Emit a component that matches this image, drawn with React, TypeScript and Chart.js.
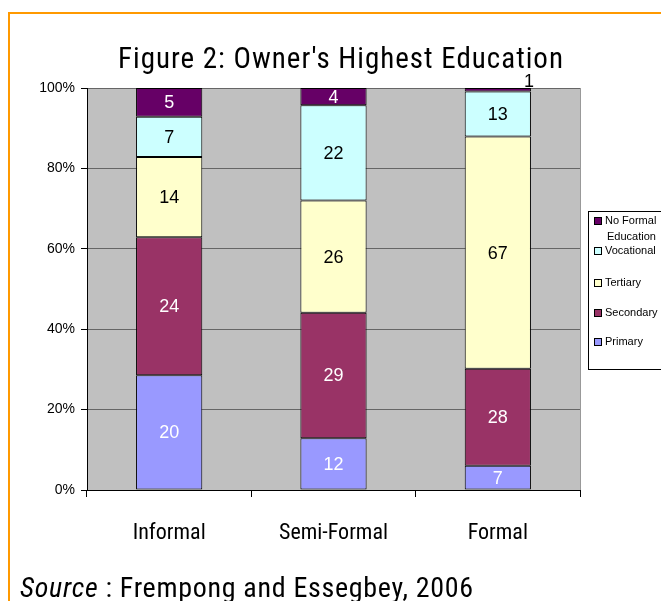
import React, { useEffect, useRef } from "react";
import { Chart, registerables } from "chart.js";

Chart.register(...registerables);

const categories = ["Informal", "Semi-Formal", "Formal"];
const seriesNames = ["Primary", "Secondary", "Tertiary", "Vocational", "No Formal Education"];
const primary = [20, 12, 7];
const secondary = [24, 29, 28];
const tertiary = [14, 26, 67];
const vocational = [7, 22, 13];
const noFormal = [5, 4, 1];
const yTicks = [0, 20, 40, 60, 80, 100];

const fills = ["#9999FF", "#993366", "#FFFFCC", "#CCFFFF", "#660066"];
const labelColors = ["#FFFFFF", "#FFFFFF", "#000000", "#000000", "#FFFFFF"];

const NARROW = '"Roboto Condensed", "Liberation Sans", sans-serif';
const ARIAL = '"Liberation Sans", Arial, sans-serif';

export default function App() {
  const ref = useRef<HTMLCanvasElement>(null);
  useEffect(() => {
    const raw = [primary, secondary, tertiary, vocational, noFormal];
    const totals = categories.map((_, i) => raw.reduce((s, arr) => s + arr[i], 0));
    const datasets = raw.map((arr, k) => ({
      label: seriesNames[k],
      data: arr.map((v, i) => (v / totals[i]) * 100),
      rawValues: arr,
      backgroundColor: fills[k],
      borderColor: "#000000",
      borderWidth: 1,
      borderSkipped: false as const,
      categoryPercentage: 1,
      barPercentage: 0.403,
    }));

    const bgPlugin = {
      id: "bg",
      beforeDraw(chart: any) {
        const { ctx, chartArea: a } = chart;
        ctx.save();
        ctx.fillStyle = "#C0C0C0";
        ctx.fillRect(a.left, a.top, a.right - a.left, a.bottom - a.top);
        ctx.strokeStyle = "#999999";
        ctx.lineWidth = 1;
        ctx.beginPath();
        ctx.moveTo(Math.round(a.right) + 0.5, a.top);
        ctx.lineTo(Math.round(a.right) + 0.5, a.bottom);
        ctx.stroke();
        ctx.restore();
      },
    };

    const labelPlugin = {
      id: "labels",
      afterDatasetsDraw(chart: any) {
        const { ctx } = chart;
        ctx.save();
        ctx.font = `18px ${ARIAL}`;
        ctx.textAlign = "center";
        ctx.textBaseline = "middle";
        chart.data.datasets.forEach((ds: any, k: number) => {
          const meta = chart.getDatasetMeta(k);
          meta.data.forEach((el: any, i: number) => {
            const v = ds.rawValues[i];
            const h = Math.abs(el.base - el.y);
            if (h < 14) {
              ctx.fillStyle = "#000000";
              ctx.fillText(String(v), el.x + el.width / 2 - 2, el.y - 6);
            } else {
              ctx.fillStyle = labelColors[k];
              ctx.fillText(String(v), el.x, (el.y + el.base) / 2 + 1);
            }
          });
        });
        ctx.restore();
      },
    };

    const decorPlugin = {
      id: "decor",
      afterDraw(chart: any) {
        const { ctx } = chart;
        ctx.save();
        // orange frame
        ctx.strokeStyle = "#FF9900";
        ctx.lineWidth = 2;
        ctx.beginPath();
        ctx.moveTo(9, 601);
        ctx.lineTo(9, 13);
        ctx.lineTo(661, 13);
        ctx.stroke();
        // title
        ctx.fillStyle = "#000000";
        (ctx as any).letterSpacing = "1px";
        ctx.font = `29px ${NARROW}`;
        ctx.textAlign = "center";
        ctx.textBaseline = "alphabetic";
        ctx.fillText("Figure 2: Owner's Highest Education", 341, 68);
        // x category labels
        (ctx as any).letterSpacing = "0px";
        ctx.font = `22px ${NARROW}`;
        const xs = chart.scales.x;
        categories.forEach((c, i) => {
          ctx.fillText(c, xs.getPixelForValue(i), 539);
        });
        // source
        (ctx as any).letterSpacing = "0.7px";
        ctx.textAlign = "left";
        ctx.font = `italic 28px ${NARROW}`;
        ctx.fillText("Source", 20, 597);
        const w = ctx.measureText("Source").width;
        ctx.font = `28px ${NARROW}`;
        ctx.fillText(" : Frempong and Essegbey, 2006", 20 + w, 597);
        (ctx as any).letterSpacing = "0px";
        // legend
        ctx.fillStyle = "#FFFFFF";
        ctx.fillRect(588.5, 211.5, 80, 158);
        ctx.strokeStyle = "#000000";
        ctx.lineWidth = 1;
        ctx.strokeRect(588.5, 211.5, 80, 158);
        const items = [
          { k: 4, lines: ["No Formal", "Education"], y: 221 },
          { k: 3, lines: ["Vocational"], y: 251 },
          { k: 2, lines: ["Tertiary"], y: 283 },
          { k: 1, lines: ["Secondary"], y: 313 },
          { k: 0, lines: ["Primary"], y: 342 },
        ];
        ctx.font = `11px ${ARIAL}`;
        ctx.textBaseline = "middle";
        items.forEach((it) => {
          ctx.fillStyle = fills[it.k];
          ctx.fillRect(594.5, it.y - 3.5, 7, 7);
          ctx.strokeStyle = "#000000";
          ctx.strokeRect(594.5, it.y - 3.5, 7, 7);
          ctx.fillStyle = "#000000";
          it.lines.forEach((t, j) => {
            ctx.fillText(t, j === 0 ? 605 : 607, it.y + j * 16);
          });
        });
        ctx.restore();
      },
    };

    const chart = new Chart(ref.current as HTMLCanvasElement, {
      type: "bar",
      data: { labels: categories, datasets: datasets as any },
      options: {
        responsive: false,
        animation: false,
        devicePixelRatio: 1,
        layout: { padding: { left: 0, top: 88, right: 81, bottom: 0 } },
        plugins: { legend: { display: false }, title: { display: false }, tooltip: { enabled: false } },
        scales: {
          x: {
            stacked: true,
            grid: { drawOnChartArea: false, drawTicks: true, tickLength: 7, color: "#000000", offset: true },
            border: { color: "#000000", width: 1 },
            ticks: { display: false },
            afterFit(scale: any) {
              scale.height = 111;
            },
          },
          y: {
            stacked: true,
            min: 0,
            max: 100,
            afterBuildTicks(scale: any) {
              scale.ticks = yTicks.map((v) => ({ value: v }));
            },
            grid: { color: "#666666", tickColor: "#000000", tickLength: 6, drawTicks: true },
            border: { color: "#000000", width: 1 },
            ticks: {
              color: "#000000",
              font: { family: ARIAL, size: 14 },
              padding: 6,
              callback: (v: any) => `${v}%`,
            },
            afterFit(scale: any) {
              scale.width = 87;
            },
          },
        },
      },
      plugins: [bgPlugin, labelPlugin, decorPlugin],
    });
    return () => chart.destroy();
  }, []);

  return (
    <div style={{ position: "fixed", left: 0, top: 0, width: 661, height: 601, background: "#FFFFFF" }}>
      <canvas ref={ref} width={661} height={601} style={{ display: "block" }} />
    </div>
  );
}
